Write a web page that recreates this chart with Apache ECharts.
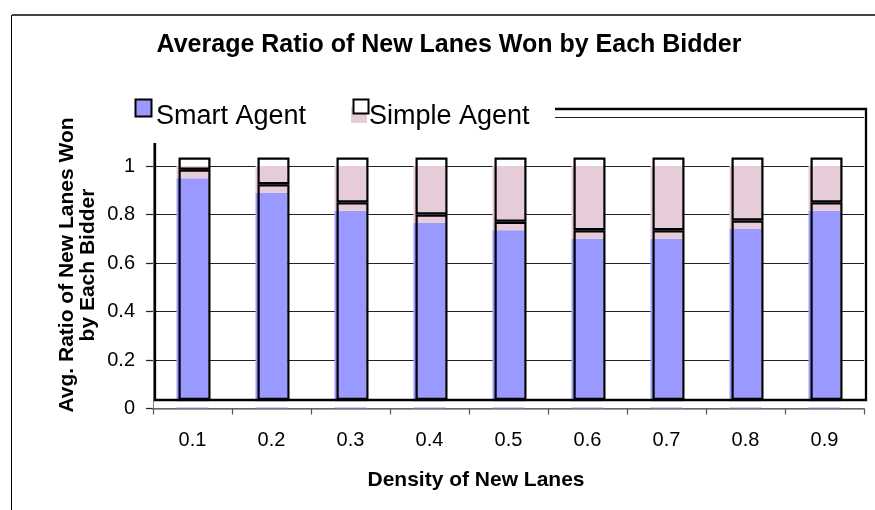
<!DOCTYPE html>
<html><head><meta charset="utf-8">
<script src="https://cdn.jsdelivr.net/npm/echarts@6/dist/echarts.min.js"></script>
<style>html,body{margin:0;padding:0;background:#fff}#c{width:875px;height:510px}</style>
</head><body><div id="c"></div><script>
const categories = ['0.1', '0.2', '0.3', '0.4', '0.5', '0.6', '0.7', '0.8', '0.9'];
const smartAgent = [0.95, 0.89, 0.815, 0.765, 0.735, 0.70, 0.70, 0.74, 0.815];
const simpleAgent = [0.05, 0.11, 0.185, 0.235, 0.265, 0.30, 0.30, 0.26, 0.185];
const seriesNames = ['Smart Agent', 'Simple Agent'];
const chartTitle = 'Average Ratio of New Lanes Won by Each Bidder';
const xTitle = 'Density of New Lanes';
const yTitle = 'Avg. Ratio of New Lanes Won\nby Each Bidder';

const FF = "'Liberation Sans', Arial, sans-serif";
const chart = echarts.init(document.getElementById('c'), null, {renderer: 'canvas'});
const barW = 32;
const option = {
  animation: false,
  backgroundColor: '#fff',
  grid: [
    {left: 153, right: 11, top: 117.5, bottom: 101.5, containLabel: false, outerBoundsMode: 'none'},
    {left: 155, right: 9, top: 109, bottom: 110, containLabel: false, outerBoundsMode: 'none',
     show: true, borderColor: '#000', borderWidth: 2.3, backgroundColor: 'rgba(0,0,0,0)', z: 6}
  ],
  xAxis: [
    {gridIndex: 0, type: 'category', data: categories, z: 10,
     axisLine: {show: true, lineStyle: {color: '#808080', width: 1.5}},
     axisTick: {show: true, length: 6, lineStyle: {color: '#555', width: 1.2}},
     axisLabel: {fontSize: 20, color: '#000', margin: 22, fontFamily: FF},
     splitLine: {show: false}},
    {gridIndex: 1, type: 'category', data: categories, show: false}
  ],
  yAxis: [
    {gridIndex: 0, type: 'value', min: 0, max: 1.2, interval: 0.2,
     axisLine: {show: true, lineStyle: {color: '#808080', width: 1}},
     axisTick: {show: true, length: 7, lineStyle: {color: '#222', width: 1.2}},
     splitLine: {show: true, lineStyle: {color: '#222', width: 1.2}},
     axisLabel: {fontSize: 20, color: '#000', margin: 18, fontFamily: FF,
       formatter: v => v > 1.1 ? '' : String(+v.toFixed(1))}},
    {gridIndex: 1, type: 'value', min: 0, max: 1.2, interval: 0.2, show: false, splitLine: {show: false}}
  ],
  series: [
    {name: seriesNames[0], type: 'bar', xAxisIndex: 0, yAxisIndex: 0, stack: 'fill', data: smartAgent,
     barWidth: barW, silent: true, itemStyle: {color: '#9999FF'}, z: 2},
    {name: seriesNames[1], type: 'bar', xAxisIndex: 0, yAxisIndex: 0, stack: 'fill', data: simpleAgent,
     barWidth: barW, silent: true, itemStyle: {color: '#E6CBD9'}, z: 2},
    {name: seriesNames[0] + ' outline', type: 'bar', xAxisIndex: 1, yAxisIndex: 1, stack: 'line', data: smartAgent,
     barWidth: barW, silent: true, itemStyle: {color: 'rgba(0,0,0,0)', borderColor: '#000', borderWidth: 2.2}, z: 7},
    {name: seriesNames[1] + ' outline', type: 'bar', xAxisIndex: 1, yAxisIndex: 1, stack: 'line', data: simpleAgent,
     barWidth: barW, silent: true, itemStyle: {color: 'rgba(0,0,0,0)', borderColor: '#000', borderWidth: 2.2}, z: 7}
  ],
  graphic: [
    {type: 'rect', z: 5, silent: true, shape: {x: 157, y: 401.3, width: 708, height: 6.3}, style: {fill: '#fff'}},
    {type: 'line', z: 30, silent: true, shape: {x1: 12, y1: 15, x2: 875, y2: 15}, style: {stroke: '#444', lineWidth: 2}},
    {type: 'line', z: 30, silent: true, shape: {x1: 11.5, y1: 15, x2: 11.5, y2: 510}, style: {stroke: '#000', lineWidth: 1}},
    {type: 'text', z: 30, silent: true, x: 449, y: 45,
     style: {text: chartTitle, font: 'bold 25px ' + FF, fill: '#000', align: 'center', verticalAlign: 'middle'}},
    {type: 'rect', z: 20, silent: true, shape: {x: 115, y: 88, width: 440, height: 55}, style: {fill: '#fff'}},
    {type: 'rect', z: 21, silent: true, shape: {x: 135.5, y: 99.5, width: 16, height: 17}, style: {fill: '#9999FF', stroke: '#000', lineWidth: 2}},
    {type: 'text', z: 21, silent: true, x: 156, y: 117,
     style: {text: seriesNames[0], font: '27px ' + FF, fill: '#000', align: 'left', verticalAlign: 'middle'}},
    {type: 'rect', z: 21, silent: true, shape: {x: 351, y: 107, width: 16, height: 16}, style: {fill: '#E6CBD9'}},
    {type: 'rect', z: 22, silent: true, shape: {x: 353.5, y: 99.5, width: 15, height: 14}, style: {fill: '#fff', stroke: '#000', lineWidth: 2}},
    {type: 'text', z: 21, silent: true, x: 369, y: 117,
     style: {text: seriesNames[1], font: '27px ' + FF, fill: '#000', align: 'left', verticalAlign: 'middle'}},
    {type: 'text', z: 30, silent: true, x: 476, y: 480,
     style: {text: xTitle, font: 'bold 21px ' + FF, fill: '#000', align: 'center', verticalAlign: 'middle'}},
    {type: 'text', z: 30, silent: true, x: 77.5, y: 265, rotation: Math.PI / 2,
     style: {text: yTitle, font: 'bold 21px ' + FF, fill: '#000', align: 'center', verticalAlign: 'middle', lineHeight: 21}}
  ]
};
chart.setOption(option);
</script></body></html>
